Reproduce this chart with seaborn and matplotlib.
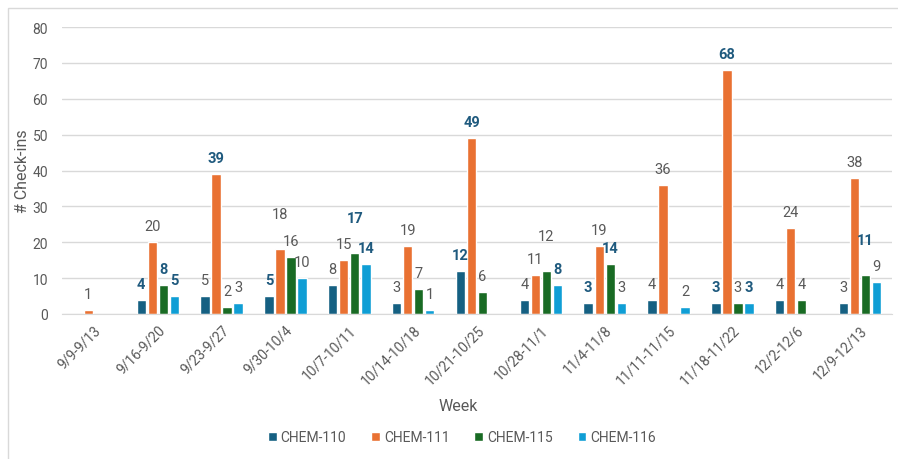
import numpy as np
import pandas as pd
import seaborn as sns
from matplotlib import pyplot as plt
from matplotlib.patches import Rectangle

weeks = ["9/9-9/13", "9/16-9/20", "9/23-9/27", "9/30-10/4", "10/7-10/11",
         "10/14-10/18", "10/21-10/25", "10/28-11/1", "11/4-11/8",
         "11/11-11/15", "11/18-11/22", "12/2-12/6", "12/9-12/13"]
courses = ["CHEM-110", "CHEM-111", "CHEM-115", "CHEM-116"]

chem_110 = [np.nan, 4, 5, 5, 8, 3, 12, 4, 3, 4, 3, 4, 3]
chem_111 = [1, 20, 39, 18, 15, 19, 49, 11, 19, 36, 68, 24, 38]
chem_115 = [np.nan, 8, 2, 16, 17, 7, 6, 12, 14, np.nan, 3, 4, 11]
chem_116 = [np.nan, 5, 3, 10, 14, 1, np.nan, 8, 3, 2, 3, np.nan, 9]

# labels shown in bold blue, and labels that were dragged up in the original
bold_labels = {"CHEM-110": [1, 3, 6, 8, 10], "CHEM-111": [2, 6, 10],
               "CHEM-115": [1, 4, 8, 12], "CHEM-116": [1, 4, 7, 10]}
lifted_labels = {"CHEM-111": [3], "CHEM-115": [4, 7, 12]}

colors = ["#156082", "#E97132", "#196B24", "#0F9ED5"]

df = pd.DataFrame({"Week": weeks * 4,
                   "Course": np.repeat(courses, len(weeks)),
                   "Checkins": chem_110 + chem_111 + chem_115 + chem_116})

sns.set_style("white")
plt.rcParams["font.family"] = ["Roboto", "DejaVu Sans"]

fig = plt.figure(figsize=(8.98, 4.6), dpi=100)
ax = fig.add_axes([62 / 898, 145 / 460, 830 / 898, 287 / 460])

sns.barplot(data=df.dropna(), x="Week", y="Checkins", hue="Course",
            order=weeks, hue_order=courses, palette=colors,
            width=0.69, gap=0.15, saturation=1, ax=ax, legend=True)

gray = "#595959"
for course, container in zip(courses, ax.containers):
    for bar in container:
        h = bar.get_height()
        if np.isnan(h):
            continue
        idx = int(round(bar.get_x() + bar.get_width() / 2))
        bold = idx in bold_labels.get(course, [])
        dy = 35 if idx in lifted_labels.get(course, []) else 16
        ax.annotate(f"{int(h)}", (bar.get_x() + bar.get_width() / 2, h),
                    xytext=(0, dy), textcoords="offset pixels",
                    ha="center", va="center", fontsize=10.5,
                    color="#1F5A7E" if bold else gray,
                    fontweight="bold" if bold else "normal")

ax.set_ylim(0, 80)
ax.set_xlim(-0.5, len(weeks) - 0.5)
ax.set_yticks(range(0, 81, 10))
ax.yaxis.grid(True, color="#D9D9D9", linewidth=1)
ax.set_axisbelow(True)
for s in ["top", "right", "left"]:
    ax.spines[s].set_visible(False)
ax.spines["bottom"].set_color("#D9D9D9")
ax.tick_params(axis="both", length=0, colors=gray, labelsize=10)
ax.tick_params(axis="y", pad=10)
ax.tick_params(axis="x", pad=6)
plt.setp(ax.get_xticklabels(), rotation=45, ha="right", rotation_mode="anchor")

ax.set_xlabel("Week", fontsize=11.5, color=gray)
ax.set_ylabel("# Check-ins", fontsize=11.5, color=gray)
ax.xaxis.set_label_coords(0.477, -0.292)
ax.yaxis.set_label_coords(-0.038, 0.5)

handles, labels = ax.get_legend_handles_labels()
ax.legend_.remove()
fig.legend(handles, labels, loc="center", bbox_to_anchor=(462 / 898, 1 - 438 / 460),
           ncol=4, frameon=False, fontsize=10, labelcolor=gray,
           handlelength=0.6, handleheight=0.6, handletextpad=0.3, columnspacing=1.8)

fig.patches.append(Rectangle((8 / 898, -0.1), 1.2, 1.1 - 9 / 460,
                             transform=fig.transFigure, fill=False,
                             edgecolor="#D9D9D9", linewidth=1))

plt.savefig("out.png", dpi=100)
